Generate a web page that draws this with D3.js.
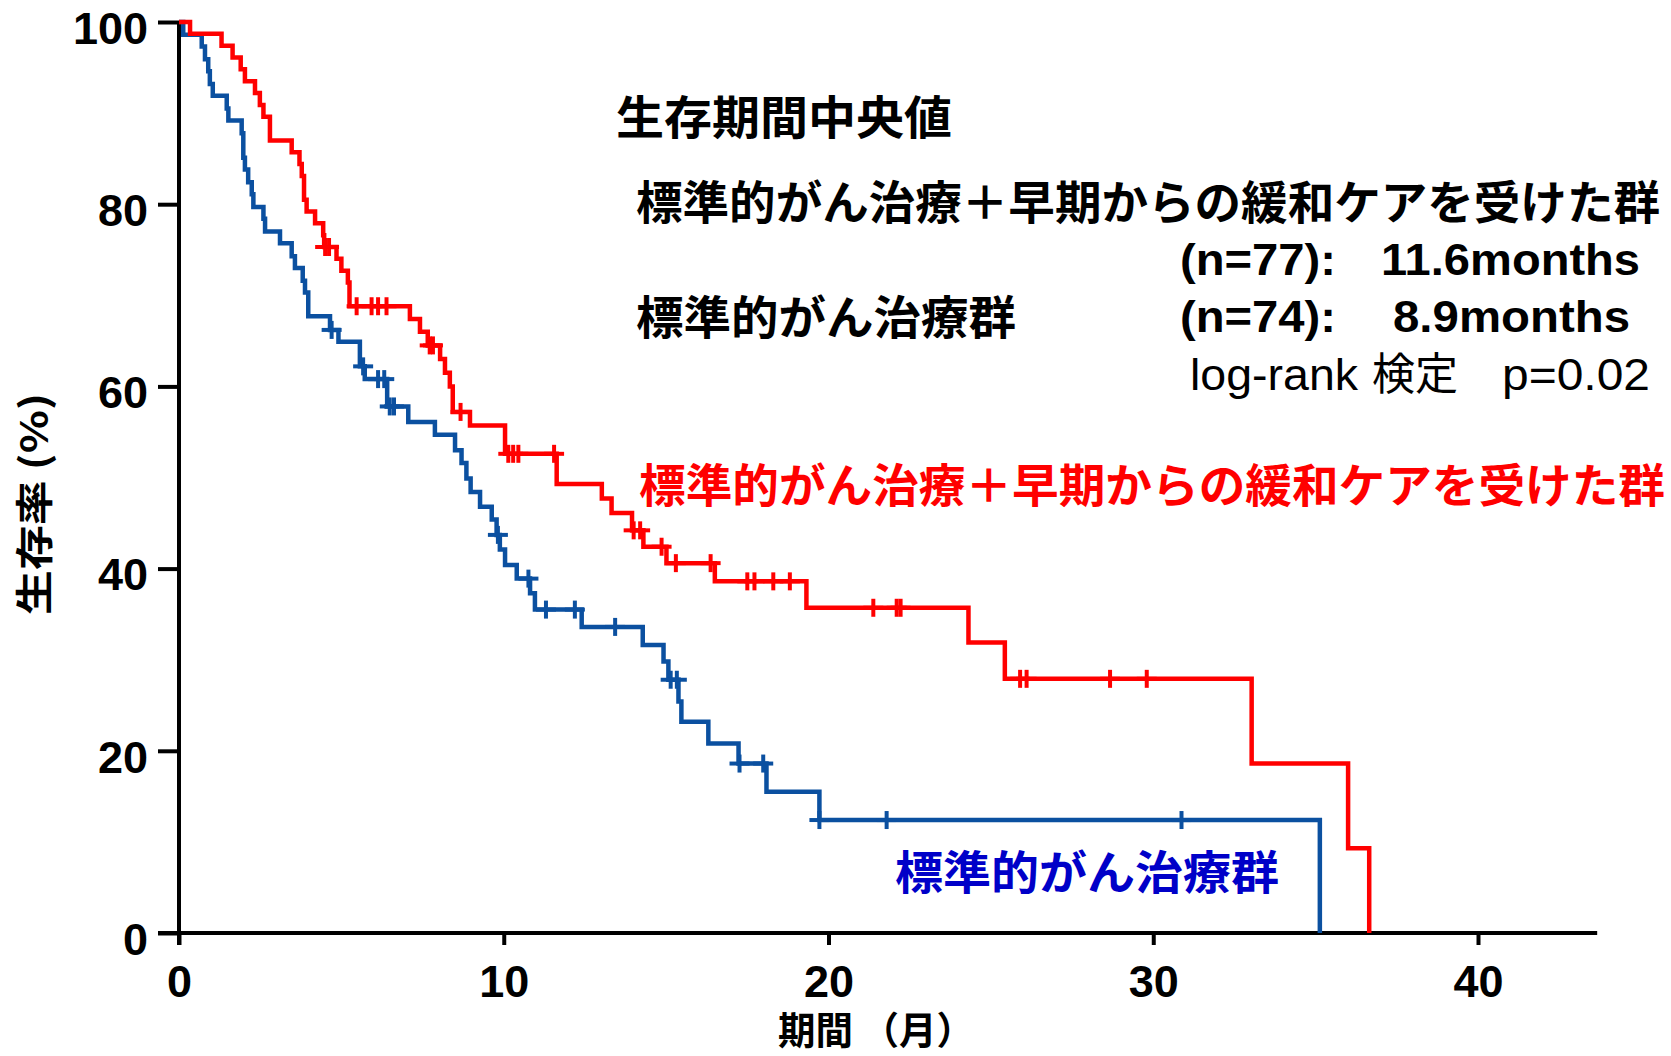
<!DOCTYPE html>
<html><head><meta charset="utf-8">
<script src="https://cdn.jsdelivr.net/npm/d3@7"></script>
<style>body{margin:0;background:#fff}</style>
</head><body><svg id="c" width="1671" height="1056"></svg>
<script>
const xTicks = [0, 10, 20, 30, 40];
const yTicks = [0, 20, 40, 60, 80, 100];

// [time (months), survival (%) after the drop]
const redSteps = [
  [0.34, 98.7], [1.31, 97.4], [1.65, 96.1], [1.90, 94.8], [2.03, 93.5], [2.34, 92.2],
  [2.49, 90.9], [2.60, 89.6], [2.80, 87.0], [3.47, 85.7], [3.71, 84.4], [3.78, 83.1],
  [3.85, 80.5], [3.93, 79.2], [4.19, 77.9], [4.44, 76.6], [4.47, 75.3], [4.85, 74.0],
  [5.00, 72.7], [5.20, 71.4], [5.25, 68.8], [7.11, 67.4], [7.42, 66.0], [7.66, 64.5],
  [8.04, 63.0], [8.19, 61.5], [8.34, 60.0], [8.43, 57.2], [8.96, 55.7], [10.04, 52.6],
  [11.63, 49.3], [13.02, 47.7], [13.32, 46.1], [13.95, 44.2], [14.30, 42.4], [15.01, 40.6],
  [16.50, 38.6], [19.32, 35.7], [24.31, 31.9], [25.43, 27.9], [33.03, 18.6], [36.00, 9.3],
  [36.65, 0]
];
const redCensor = [4.50, 4.62, 5.47, 5.93, 6.13, 6.39, 7.72, 7.82, 8.67, 10.14, 10.29, 10.45,
  11.55, 14.00, 14.20, 14.86, 15.30, 16.37, 17.50, 17.72, 18.30, 18.81, 21.38, 22.10, 22.22,
  25.90, 26.10, 28.67, 29.80];

const blueSteps = [
  [0.13, 98.6], [0.70, 97.3], [0.80, 95.9], [0.90, 94.6], [0.95, 93.2], [1.04, 91.9],
  [1.47, 90.5], [1.52, 89.2], [1.93, 87.8], [1.98, 85.1], [2.03, 83.8], [2.13, 82.4],
  [2.24, 81.1], [2.29, 79.7], [2.60, 78.4], [2.65, 77.0], [3.11, 75.7], [3.47, 74.3],
  [3.57, 73.0], [3.81, 71.6], [3.88, 70.3], [3.98, 67.7], [4.65, 66.2], [4.91, 64.9],
  [5.57, 62.2], [5.72, 60.8], [6.41, 57.8], [7.06, 56.1], [7.88, 54.7], [8.50, 53.0],
  [8.70, 51.6], [8.85, 49.9], [8.98, 48.4], [9.27, 46.8], [9.63, 45.4], [9.78, 43.7],
  [9.88, 42.1], [10.04, 40.4], [10.40, 38.9], [10.81, 37.3], [10.96, 35.5], [12.40, 33.6],
  [14.28, 31.6], [14.92, 29.8], [15.07, 27.8], [15.38, 25.4], [15.47, 23.2], [16.30, 20.8],
  [17.23, 18.6], [18.09, 15.5], [19.72, 12.4], [35.13, 0]
];
const blueCensor = [4.70, 5.67, 6.13, 6.32, 6.49, 6.62, 9.82, 10.76, 11.30, 12.19, 13.43,
  15.14, 15.33, 17.26, 17.99, 19.72, 21.79, 30.87];

const RED = "#ff0000", BLUE = "#0b50a0", TXTBLUE = "#0000c8";
const LAT = "'Liberation Sans', Arial, 'Noto Sans CJK JP', sans-serif";
const CJK = "'Noto Sans CJK JP', 'Liberation Sans', sans-serif";

const svg = d3.select("#c");
const x = d3.scaleLinear().domain([0, 40]).range([179, 1478]);
const y = d3.scaleLinear().domain([0, 100]).range([933, 22]);

// axes
const yAxis = svg.append("g").attr("transform", "translate(179,0)")
  .call(d3.axisLeft(y).tickValues(yTicks).tickSize(21).tickPadding(10).tickSizeOuter(0));
yAxis.select(".domain").remove();
yAxis.selectAll(".tick line").attr("stroke", "#000").attr("stroke-width", 4);
yAxis.selectAll(".tick text").attr("font-family", LAT).attr("font-weight", "bold")
  .attr("font-size", 45).attr("fill", "#000").attr("dy", "0.65em").attr("y", -8);

const xAxis = svg.append("g").attr("transform", "translate(0,933)")
  .call(d3.axisBottom(x).tickValues(xTicks).tickSize(12).tickPadding(10).tickSizeOuter(0));
xAxis.select(".domain").remove();
xAxis.selectAll(".tick line").attr("stroke", "#000").attr("stroke-width", 4);
xAxis.selectAll(".tick text").attr("font-family", LAT).attr("font-weight", "bold")
  .attr("font-size", 45).attr("fill", "#000").attr("dy", "0").attr("y", 64);

// axis lines
svg.append("line").attr("x1", 179).attr("x2", 179).attr("y1", y(100)).attr("y2", 945)
  .attr("stroke", "#000").attr("stroke-width", 4);
svg.append("line").attr("x1", 158).attr("x2", x(43.67)).attr("y1", y(0)).attr("y2", y(0))
  .attr("stroke", "#000").attr("stroke-width", 4);

function kmPoints(steps) { return [[0, 100]].concat(steps); }
function level(steps, t) { let s = 100; for (const [tt, ss] of steps) { if (tt <= t) s = ss; else break; } return s; }

const line = d3.line().x(d => x(d[0])).y(d => y(d[1])).curve(d3.curveStepAfter);

function drawGroup(steps, censor, color) {
  const g = svg.append("g");
  g.append("path").attr("d", line(kmPoints(steps))).attr("fill", "none")
    .attr("stroke", color).attr("stroke-width", 4.5).attr("stroke-linejoin", "miter");
  const c = g.selectAll("g.cz").data(censor).enter().append("g")
    .attr("transform", d => `translate(${x(d)},${y(level(steps, d))})`);
  c.append("line").attr("x1", 0).attr("x2", 0).attr("y1", -9).attr("y2", 9)
    .attr("stroke", color).attr("stroke-width", 4);
  c.append("line").attr("x1", -10).attr("x2", 10).attr("y1", 0).attr("y2", 0)
    .attr("stroke", color).attr("stroke-width", 4);
}
drawGroup(blueSteps, blueCensor, BLUE);
drawGroup(redSteps, redCensor, RED);

// texts
function txt(s, xx, yy, opts) {
  const t = svg.append("text").attr("x", xx).attr("y", yy).text(s)
    .attr("font-family", opts.ff || CJK).attr("font-weight", opts.fw || "bold")
    .attr("font-size", opts.fs || 46).attr("fill", opts.fill || "#000");
  if (opts.tl) t.attr("textLength", opts.tl).attr("lengthAdjust", "spacingAndGlyphs");
  if (opts.anchor) t.attr("text-anchor", opts.anchor);
  return t;
}
txt("生存期間中央値", 616, 134, { fs: 46, tl: 336 });
txt("標準的がん治療＋早期からの緩和ケアを受けた群", 636, 219, { fs: 46, tl: 1024 });
txt("(n=77):", 1180, 275, { ff: LAT, fs: 45, tl: 156 });
txt("11.6months", 1381, 275, { ff: LAT, fs: 45, tl: 259 });
txt("標準的がん治療群", 636, 334, { fs: 46, tl: 380 });
txt("(n=74):", 1180, 332, { ff: LAT, fs: 45, tl: 156 });
txt("8.9months", 1393, 332, { ff: LAT, fs: 45, tl: 237 });
txt("log-rank", 1190, 390, { ff: LAT, fw: "normal", fs: 45, tl: 168 });
txt("検定", 1372, 390, { fw: "normal", fs: 44, tl: 86 });
txt("p=0.02", 1502, 390, { ff: LAT, fw: "normal", fs: 45, tl: 148 });

txt("標準的がん治療＋早期からの緩和ケアを受けた群", 639, 502, { fs: 46, tl: 1026, fill: RED });
txt("標準的がん治療群", 895, 889, { fs: 46, tl: 384, fill: TXTBLUE });

// axis titles
svg.append("text").attr("transform", "translate(48,504) rotate(-90)")
  .attr("text-anchor", "middle").attr("font-family", CJK).attr("font-weight", "bold")
  .attr("font-size", 38).attr("textLength", 222).attr("lengthAdjust", "spacingAndGlyphs")
  .text("生存率  (%)");
svg.append("text").attr("x", 876).attr("y", 1044).attr("text-anchor", "middle")
  .attr("font-family", CJK).attr("font-weight", "bold").attr("font-size", 38)
  .attr("textLength", 196).attr("lengthAdjust", "spacingAndGlyphs").text("期間 （月）");
</script></body></html>
